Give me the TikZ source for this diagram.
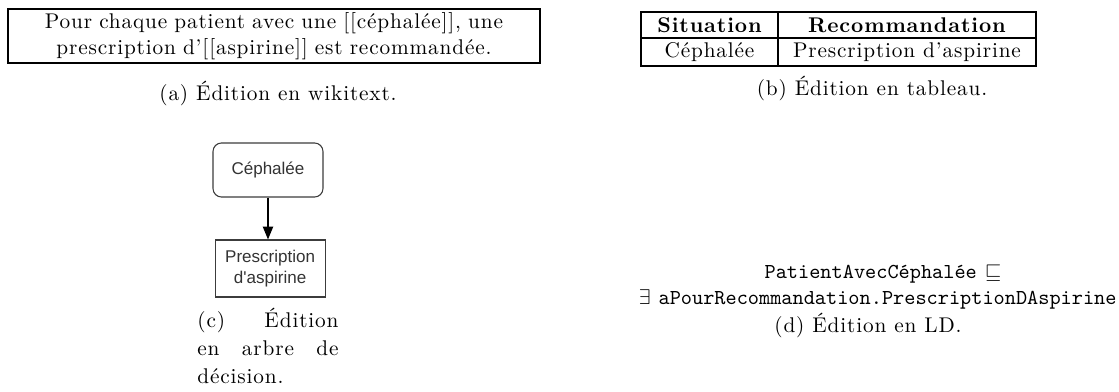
\documentclass[tikz,border=0pt]{standalone}
\usepackage{fontspec}
\usepackage{amssymb}
\usetikzlibrary{arrows.meta,positioning}
\setmainfont{Latin Modern Roman}[LetterSpace=4]
\newfontfamily\treefont{Liberation Sans}
\definecolor{TreeLine}{HTML}{3C3C3C}
\definecolor{TreeText}{HTML}{333333}

\begin{document}
\begin{tikzpicture}[x=0.47pt,y=-0.47pt,
		treebox/.style={draw=TreeLine,line width=0.5pt,font=\treefont\footnotesize,text=TreeText,align=center,minimum width=51.7pt,inner sep=2pt},
		cell/.style={inner sep=0pt},
		caption/.style={inner sep=0pt}]
		\useasboundingbox (0,0) rectangle (1119,392);
		% (a) wikitext
		\node[draw,line width=0.9pt,minimum width=250pt,minimum height=25.4pt,text width=246pt,align=center,inner sep=1pt] (wiki) at (274,36)
			{Pour chaque patient avec une [[céphalée]], une\\prescription d'[[aspirine]] est recommandée.};
		\node[caption] (capa) at (278,93) {(a) Édition en wikitext.};
		% (b) tableau
		\draw[line width=1pt] (641,12) rectangle (1036,66);
		\draw[line width=0.6pt] (641,38) -- (1036,38);
		\draw[line width=0.8pt] (778,12) -- (778,66);
		\node[cell] (sit) at (709.5,25) {\bfseries Situation};
		\node[cell] (reco) at (907,25) {\bfseries Recommandation};
		\node[cell] (cephcell) at (709.5,52) {Céphalée};
		\node[cell] (asprcell) at (907,52) {Prescription d'aspirine};
		\node[caption] (capb) at (872,88) {(b) Édition en tableau.};
		% (c) arbre de decision
		\node[treebox,rounded corners=4pt,minimum height=25.4pt] (ceph) at (268,170) {Céphalée};
		\node[treebox,minimum height=26.8pt,below=19.7pt of ceph,xshift=1pt] (presc) {Prescription\\d'aspirine};
		\draw[line width=0.6pt,-{Triangle[length=6pt,width=4.8pt]}] (ceph.south) -- (ceph.south |- presc.north);
		\node[caption,text width=66.3pt,align=left,anchor=north west,font=\fontsize{10}{13}\selectfont] (capc) at (197,308)
			{(c)\hfill Édition\\en\hfill arbre\hfill de\\décision.};
		% (d) logique de description
		\node[caption] (ld1) at (883,274) {\texttt{PatientAvecCéphalée} $\sqsubseteq$};
		\node[caption,anchor=east] (ld2) at (1117,299) {$\exists$ \texttt{aPourRecommandation.PrescriptionDAspirine}};
		\node[caption] (capd) at (868,325) {(d) Édition en LD.};
	\end{tikzpicture}
\end{document}
